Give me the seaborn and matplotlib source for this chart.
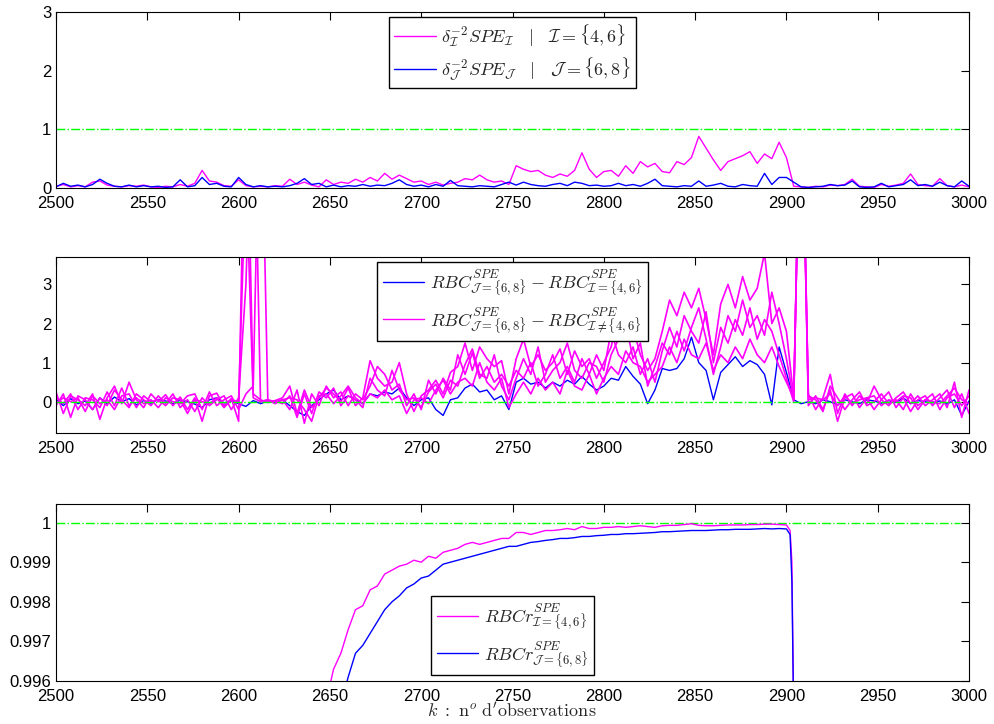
import numpy as np
import pandas as pd
import matplotlib
matplotlib.use("Agg")
import matplotlib.pyplot as plt
from matplotlib.lines import Line2D
from matplotlib.ticker import FuncFormatter
import seaborn as sns

k = np.arange(2500, 3001, 4)

# panel 1 : normalised SPE
spe_I = [0.03, 0.06, 0.02, 0.04, 0.02, 0.10, 0.12, 0.05, 0.03, 0.02,
         0.04, 0.03, 0.05, 0.02, 0.01, 0.03, 0.02, 0.06, 0.03, 0.08,
         0.30, 0.12, 0.10, 0.04, 0.03, 0.14, 0.04, 0.02, 0.03, 0.02,
         0.04, 0.03, 0.15, 0.06, 0.10, 0.05, 0.02, 0.14, 0.06, 0.10,
         0.08, 0.15, 0.10, 0.18, 0.12, 0.25, 0.15, 0.22, 0.16, 0.10,
         0.12, 0.06, 0.10, 0.05, 0.08, 0.10, 0.16, 0.14, 0.22, 0.14,
         0.10, 0.12, 0.06, 0.38, 0.32, 0.28, 0.30, 0.22, 0.18, 0.24,
         0.20, 0.30, 0.60, 0.32, 0.18, 0.28, 0.30, 0.20, 0.38, 0.25,
         0.45, 0.36, 0.42, 0.28, 0.26, 0.45, 0.40, 0.52, 0.88, 0.68,
         0.48, 0.30, 0.45, 0.50, 0.55, 0.62, 0.42, 0.58, 0.50, 0.78,
         0.52, 0.03, 0.02, 0.01, 0.03, 0.02, 0.05, 0.04, 0.06, 0.15,
         0.03, 0.02, 0.01, 0.06, 0.03, 0.05, 0.08, 0.24, 0.06, 0.04,
         0.03, 0.16, 0.04, 0.02, 0.05, 0.02]
spe_J = [0.02, 0.08, 0.03, 0.05, 0.02, 0.06, 0.15, 0.08, 0.03, 0.02,
         0.05, 0.02, 0.04, 0.02, 0.03, 0.01, 0.02, 0.14, 0.02, 0.04,
         0.18, 0.06, 0.08, 0.03, 0.02, 0.18, 0.06, 0.02, 0.04, 0.02,
         0.03, 0.02, 0.04, 0.08, 0.16, 0.06, 0.08, 0.02, 0.05, 0.02,
         0.04, 0.03, 0.06, 0.03, 0.05, 0.04, 0.08, 0.14, 0.06, 0.03,
         0.05, 0.02, 0.06, 0.03, 0.13, 0.04, 0.03, 0.02, 0.04, 0.03,
         0.02, 0.06, 0.10, 0.05, 0.10, 0.06, 0.04, 0.03, 0.06, 0.08,
         0.04, 0.10, 0.08, 0.04, 0.05, 0.03, 0.04, 0.08, 0.04, 0.06,
         0.03, 0.08, 0.15, 0.04, 0.03, 0.02, 0.04, 0.03, 0.12, 0.03,
         0.05, 0.08, 0.03, 0.02, 0.06, 0.04, 0.03, 0.25, 0.06, 0.18,
         0.18, 0.10, 0.02, 0.01, 0.02, 0.03, 0.06, 0.04, 0.05, 0.12,
         0.02, 0.01, 0.02, 0.08, 0.02, 0.04, 0.06, 0.14, 0.04, 0.06,
         0.03, 0.10, 0.04, 0.02, 0.12, 0.03]

# panel 2 : RBC differences
rbc_diff_J = [0.05, -0.10, 0.08, -0.05, 0.02, -0.20, 0.10, -0.05, 0.12, 0.00,
              0.08, -0.08, 0.03, -0.04, 0.06, 0.02, -0.05, 0.04, 0.00, -0.06,
              -0.15, 0.05, 0.10, -0.03, 0.02, -0.05, -0.12, 0.03, -0.05, 0.02,
              -0.03, 0.05, -0.10, -0.25, -0.35, -0.10, 0.05, 0.20, 0.30, 0.05,
              0.15, 0.05, -0.05, 0.20, 0.15, 0.25, 0.20, 0.35, 0.10, -0.10,
              0.05, 0.10, -0.20, -0.35, 0.05, 0.10, 0.35, 0.45, 0.25, 0.30,
              0.05, 0.15, -0.20, 0.50, 0.60, 0.45, 0.50, 0.35, 0.50, 0.40,
              0.55, 0.45, 0.65, 0.45, 0.30, 0.40, 0.60, 0.55, 0.90, 0.65,
              0.45, -0.05, 0.30, 0.85, 0.80, 0.85, 1.10, 1.65, 1.00, 0.80,
              0.05, 0.75, 0.95, 1.15, 0.90, 1.05, 0.95, 0.70, -0.08, 1.40,
              0.75, 0.05, -0.05, 0.00, -0.05, 0.05, 0.00, -0.08, 0.05, 0.00,
              -0.05, 0.05, 0.02, -0.04, 0.03, -0.02, 0.10, -0.05, 0.03, 0.00,
              -0.03, 0.02, -0.06, 0.05, -0.35, 0.02]
rbc_diff_a = [0.25, -0.30, 0.15, 0.05, -0.10, 0.20, -0.45, 0.10, 0.40, -0.05,
              0.50, 0.05, -0.15, 0.20, 0.00, 0.18, -0.10, 0.12, -0.20, 0.10,
              -0.50, 0.15, 0.22, -0.10, 0.08, -0.50, 9.00, 0.20, 0.05, -0.02,
              0.03, 0.10, 0.40, -0.30, 0.30, -0.15, 0.10, 0.35, 0.20, 0.00,
              0.35, -0.10, 0.10, 1.05, 0.60, 0.40, 0.50, 1.00, 0.20, -0.25,
              0.15, 0.30, 0.55, 0.20, 0.75, 0.90, 1.50, 0.80, 1.40, 1.10,
              0.90, 1.05, 0.20, 1.10, 1.60, 0.90, 1.20, 0.80, 1.00, 1.35,
              0.70, 1.30, 0.90, 1.10, 0.60, 1.00, 1.40, 2.20, 1.60, 1.90,
              1.20, 0.80, 1.10, 1.80, 2.60, 2.20, 2.80, 2.40, 2.90, 2.10,
              1.20, 2.50, 3.00, 2.40, 3.20, 2.60, 2.90, 3.80, 2.00, 2.40,
              1.80, 0.10, 9.00, 0.20, -0.20, 0.10, 0.70, -0.30, 0.20, -0.10,
              0.15, -0.05, 0.40, 0.05, -0.10, 0.10, 0.25, -0.05, 0.15, -0.10,
              0.05, 0.20, -0.15, 0.50, -0.40, 0.30]
rbc_diff_b = [-0.10, 0.20, -0.40, 0.15, 0.05, -0.20, 0.10, -0.10, 0.30, 0.05,
              -0.15, 0.20, 0.05, -0.10, 0.15, -0.05, 0.20, -0.15, 0.05, -0.25,
              0.10, -0.10, 0.05, 0.15, -0.20, 0.10, 3.00, 9.00, 0.00, 0.05,
              -0.05, 0.05, -0.20, 0.30, -0.55, 0.20, -0.10, 0.40, 0.10, 0.25,
              -0.10, 0.20, 0.05, 0.40, 0.90, 0.70, 0.30, 0.45, -0.10, 0.20,
              -0.20, 0.55, 0.20, 0.60, 0.30, 1.20, 0.70, 1.25, 0.60, 0.90,
              0.50, 0.70, 0.40, 0.80, 0.60, 1.00, 0.40, 0.70, 1.20, 0.60,
              0.90, 0.50, 1.10, 0.70, 1.20, 0.80, 1.80, 1.20, 1.00, 1.40,
              0.70, 1.10, 0.50, 1.30, 1.90, 1.40, 2.20, 1.80, 1.50, 2.30,
              1.00, 1.90, 1.50, 2.10, 1.70, 2.40, 1.60, 2.10, 1.80, 1.20,
              0.60, 0.00, 9.00, -0.10, 0.15, -0.20, 0.30, -0.50, 0.10, 0.20,
              -0.15, 0.10, -0.20, 0.05, 0.25, -0.15, 0.10, -0.25, 0.05, 0.15,
              -0.10, 0.10, 0.30, -0.15, 0.20, -0.30]
rbc_diff_c = [0.10, -0.05, 0.20, -0.20, 0.10, 0.05, -0.15, 0.25, -0.10, 0.35,
              -0.10, 0.10, -0.05, 0.05, -0.15, 0.10, 0.00, -0.05, 0.15, 0.20,
              -0.20, 0.25, -0.10, 0.05, 0.15, -0.20, 0.20, 0.40, 9.00, 0.00,
              0.02, -0.05, 0.15, -0.40, 0.20, -0.30, 0.25, 0.10, 0.35, -0.10,
              0.15, 0.05, -0.15, 0.60, 0.30, 0.15, 0.80, 0.30, 0.05, 0.10,
              -0.15, 0.25, 0.45, 0.10, 0.55, 0.40, 0.95, 1.35, 0.70, 0.60,
              1.20, 0.40, 0.05, 0.60, 1.10, 0.70, 1.40, 0.50, 0.80, 1.00,
              1.50, 0.80, 0.60, 1.00, 0.90, 0.50, 1.20, 1.60, 2.00, 1.10,
              1.50, 0.40, 0.90, 1.50, 1.20, 1.80, 1.30, 1.90, 2.40, 1.60,
              0.70, 1.40, 2.20, 1.80, 2.60, 1.90, 2.20, 1.70, 2.80, 2.00,
              1.10, 0.05, 9.00, 0.15, 0.05, -0.25, 0.40, 0.10, -0.20, 0.05,
              0.25, -0.10, 0.00, 0.20, -0.05, 0.05, -0.20, 0.20, -0.10, 0.05,
              0.20, -0.20, 0.10, 0.20, -0.10, 0.15]
rbc_diff_d = [-0.05, 0.10, 0.00, 0.10, -0.25, 0.15, -0.05, 0.05, -0.20, 0.15,
              0.20, -0.15, 0.15, 0.00, 0.05, -0.10, 0.10, 0.05, -0.30, 0.05,
              0.00, -0.05, 0.10, -0.15, 0.05, 0.00, 6.00, 0.10, 0.00, 0.05,
              0.00, 0.05, 0.10, 0.05, -0.20, -0.50, 0.15, 0.20, -0.05, 0.15,
              0.40, 0.10, -0.05, 0.20, 0.10, 0.30, 0.05, 0.15, -0.30, 0.05,
              0.10, -0.05, 0.30, 0.55, 0.20, 0.50, 0.60, 0.40, 1.00, 0.50,
              0.30, 0.60, -0.15, 0.20, 0.50, 0.20, 0.60, 0.30, 0.50, 0.20,
              0.80, 0.40, 0.30, 0.70, 0.20, 0.60, 0.90, 0.70, 1.30, 1.00,
              0.90, 0.50, 0.70, 0.90, 1.40, 1.00, 1.60, 1.20, 1.10, 1.50,
              0.80, 1.20, 1.00, 1.40, 1.10, 1.60, 1.20, 1.00, 1.40, 0.90,
              0.50, 0.10, 9.00, 0.05, 0.10, 0.05, 0.20, -0.10, 0.15, -0.05,
              0.05, 0.10, 0.15, -0.10, 0.05, 0.00, 0.15, 0.10, -0.20, 0.05,
              0.00, -0.05, 0.15, 0.35, 0.05, -0.05]

# panel 3 : RBC ratios
k_rbcr_I = list(range(2648, 2901, 4)) + [2902, 2903, 2904]
rbcr_I = [0.9955, 0.9963, 0.9967, 0.9973, 0.9978, 0.9979, 0.9983, 0.9984,
          0.9987, 0.9988, 0.9989, 0.99895, 0.99905, 0.9990, 0.99915, 0.9991,
          0.99925, 0.9993, 0.99935, 0.99945, 0.9995, 0.99945, 0.9995, 0.99955,
          0.9996, 0.9996, 0.99975, 0.99975, 0.9997, 0.99975, 0.9998, 0.9998,
          0.99982, 0.99985, 0.99982, 0.9999, 0.99985, 0.99985, 0.99988, 0.99988,
          0.9999, 0.99988, 0.9999, 0.99992, 0.9999, 0.99988, 0.99992, 0.99993,
          0.99993, 0.99995, 0.99997, 0.99993, 0.99992, 0.99992, 0.99993, 0.99994,
          0.99994, 0.99994, 0.99995, 0.99995, 0.99996, 0.99996, 0.99995, 0.99994,
          0.9998, 0.9990, 0.9950]
k_rbcr_J = list(range(2656, 2901, 4)) + [2902, 2903, 2904]
rbcr_J = [0.9954, 0.9961, 0.9967, 0.9969, 0.9972, 0.9975, 0.9978, 0.9980,
          0.99815, 0.99835, 0.99845, 0.9986, 0.99865, 0.9988, 0.99895, 0.9990,
          0.99905, 0.9991, 0.99915, 0.9992, 0.99925, 0.9993, 0.99935, 0.9994,
          0.9994, 0.99945, 0.9995, 0.99952, 0.99955, 0.99957, 0.9996, 0.9996,
          0.99962, 0.99965, 0.99965, 0.99967, 0.99968, 0.9997, 0.9997, 0.99972,
          0.99972, 0.99973, 0.99974, 0.99975, 0.99977, 0.99977, 0.99978, 0.99979,
          0.9998, 0.9998, 0.9998, 0.99981, 0.99982, 0.99982, 0.99983, 0.99983,
          0.99983, 0.99984, 0.99985, 0.99984, 0.99985, 0.99984,
          0.9997, 0.9985, 0.9950]

k_ref = [2500, 2995]

MAG = (1, 0, 1)
BLU = (0, 0, 1)
GRN = (0, 1, 0)

sns.set_theme(style="white")
plt.rcParams["font.family"] = ["Liberation Sans", "DejaVu Sans"]
plt.rcParams["mathtext.fontset"] = "cm"
plt.rcParams["axes.edgecolor"] = "black"
plt.rcParams["axes.linewidth"] = 0.8

fig = plt.figure(figsize=(9.95, 7.24), dpi=100)
ax1 = fig.add_axes([0.0563, 0.7403, 0.9176, 0.2431])
ax2 = fig.add_axes([0.0563, 0.4019, 0.9176, 0.2431])
ax3 = fig.add_axes([0.0563, 0.0594, 0.9176, 0.2445])


def line(ax, x, y, color, lw=1.0, ls="-"):
    df = pd.DataFrame({"k": x, "v": y})
    sns.lineplot(data=df, x="k", y="v", ax=ax, color=color, lw=lw, ls=ls,
                 estimator=None, sort=False, legend=False)


# panel 1
line(ax1, k_ref, [1, 1], GRN, lw=1.0, ls="-.")
line(ax1, k, spe_I, MAG)
line(ax1, k, spe_J, BLU)
ax1.set_ylim(0, 3)
ax1.set_yticks([0, 1, 2, 3])

# panel 2
line(ax2, k, rbc_diff_J, BLU)
for s in [rbc_diff_a, rbc_diff_b, rbc_diff_c, rbc_diff_d]:
    line(ax2, k, s, MAG, lw=1.2)
line(ax2, k_ref, [0, 0], GRN, lw=1.0, ls="-.")
ax2.set_ylim(-0.8, 3.7)
ax2.set_yticks([0, 1, 2, 3])

# panel 3
line(ax3, k_ref, [1, 1], GRN, lw=1.0, ls="-.")
line(ax3, k_rbcr_I, rbcr_I, MAG)
line(ax3, k_rbcr_J, rbcr_J, BLU)
ax3.set_ylim(0.996, 1.00047)
ax3.set_yticks([0.996, 0.997, 0.998, 0.999, 1.0])
ax3.yaxis.set_major_formatter(FuncFormatter(lambda v, p: f"{v:g}"))

for ax in (ax1, ax2, ax3):
    ax.set_xlim(2500, 3000)
    ax.set_xticks(range(2500, 3001, 50))
    ax.set_xlabel("")
    ax.set_ylabel("")
    ax.tick_params(direction="in", length=5.5, width=0.8, top=True, right=True,
                   labelsize=12, colors="black")
    ax.tick_params(axis="x", pad=5.5)
    ax.tick_params(axis="y", pad=3.5)
    for sp in ax.spines.values():
        sp.set_visible(True)
        sp.set_color("black")

leg_kw = dict(frameon=True, fancybox=False, edgecolor="black", fontsize=13,
              handlelength=2.3, handletextpad=0.3, borderpad=0.3,
              labelspacing=0.35, framealpha=1, borderaxespad=0)

h1 = [Line2D([], [], color=MAG, lw=1), Line2D([], [], color=BLU, lw=1)]
lg = ax1.legend(h1, [r"$\delta_{\mathcal{I}}^{-2}SPE_{\mathcal{I}}\quad|\quad\mathcal{I}=\{4,6\}$",
                     r"$\delta_{\mathcal{J}}^{-2}SPE_{\mathcal{J}}\quad|\quad\mathcal{J}=\{6,8\}$"],
                loc="upper center", bbox_to_anchor=(0.5, 0.971), **leg_kw)
lg.get_frame().set_linewidth(1.0)

h2 = [Line2D([], [], color=BLU, lw=1), Line2D([], [], color=MAG, lw=1)]
lg = ax2.legend(h2, [r"$RBC^{SPE}_{\mathcal{J}=\{6,8\}}-RBC^{SPE}_{\mathcal{I}=\{4,6\}}$",
                     r"$RBC^{SPE}_{\mathcal{J}=\{6,8\}}-RBC^{SPE}_{\mathcal{I}\neq\{4,6\}}$"],
                loc="upper center", bbox_to_anchor=(0.5, 0.972), **leg_kw)
lg.get_frame().set_linewidth(1.0)

h3 = [Line2D([], [], color=MAG, lw=1), Line2D([], [], color=BLU, lw=1)]
lg = ax3.legend(h3, [r"$RBCr^{SPE}_{\mathcal{I}=\{4,6\}}$",
                     r"$RBCr^{SPE}_{\mathcal{J}=\{6,8\}}$"],
                loc="lower center", bbox_to_anchor=(0.5, 0.034), **leg_kw)
lg.get_frame().set_linewidth(1.0)

fig.text(0.5145, 0.016, r"$k\ :\ \mathrm{n}^{o}\ \mathrm{d'observations}$",
         ha="center", va="center", fontsize=13)

fig.savefig("out.png", dpi=100)
